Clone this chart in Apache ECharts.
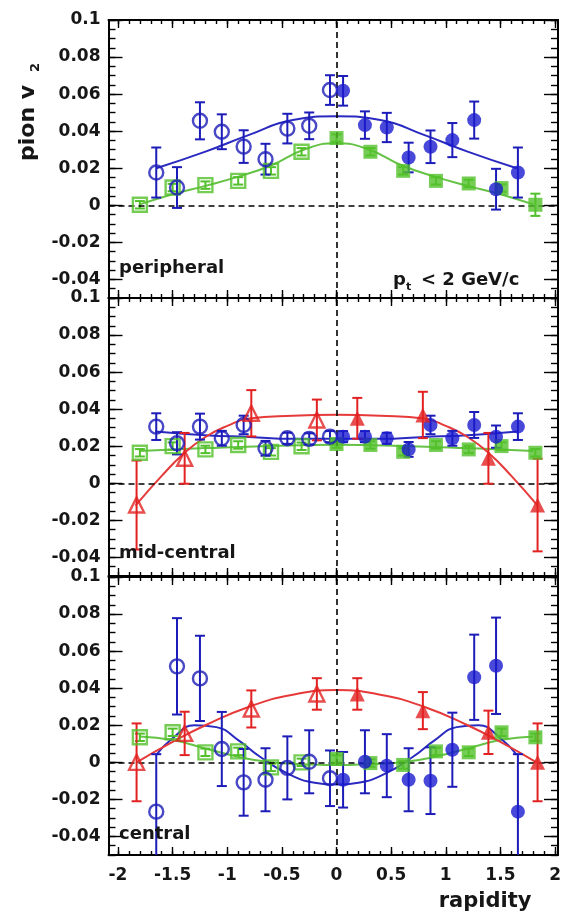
<!DOCTYPE html>
<html>
<head>
<meta charset="utf-8">
<script src="https://cdn.jsdelivr.net/npm/echarts@6/dist/echarts.min.js"></script>
<style>
  html, body { margin: 0; padding: 0; background: #fff; }
  #chart { width: 565px; height: 918px; }
</style>
</head>
<body>
<div id="chart"></div>
<script>
// ---- tick labels ----
const xTickValues = [-2, -1.5, -1, -0.5, 0, 0.5, 1, 1.5, 2];
const yTickValues = [-0.04, -0.02, 0, 0.02, 0.04, 0.06, 0.08, 0.1];
const panelNames = ['peripheral', 'mid-central', 'central'];

// ---- rapidity of each measurement (open = backward, filled = forward) ----
const blueOpenRap   = [-1.65, -1.46, -1.25, -1.05, -0.85, -0.65, -0.45, -0.25, -0.06];
const blueFilledRap = [0.06, 0.26, 0.46, 0.66, 0.86, 1.06, 1.26, 1.46, 1.66];
const greenOpenRap  = [-1.8, -1.5, -1.2, -0.9, -0.6, -0.32];
const greenFilledRap= [0.0, 0.31, 0.61, 0.91, 1.21, 1.51, 1.82];
const redOpenRap    = [-1.83, -1.39, -0.78, -0.18];
const redFilledRap  = [0.19, 0.79, 1.39, 1.84];

// ---- peripheral ----
const periBlueOpen    = [0.0177, 0.0096, 0.0456, 0.0397, 0.0317, 0.0249, 0.0414, 0.0429, 0.0622];
const periBlueOpenErr = [0.0135, 0.011, 0.010, 0.0094, 0.0088, 0.0083, 0.008, 0.0072, 0.008];
const periBlueFilled    = [0.0618, 0.0433, 0.042, 0.0258, 0.0316, 0.0352, 0.046, 0.0087, 0.0177];
const periBlueFilledErr = [0.008, 0.0074, 0.0079, 0.008, 0.0088, 0.0092, 0.010, 0.011, 0.0135];
const periGreenOpen    = [0.0003, 0.0096, 0.0109, 0.0132, 0.0186, 0.0289];
const periGreenOpenErr = [0.002, 0.002, 0.002, 0.002, 0.002, 0.002];
const periGreenFilled    = [0.0363, 0.0289, 0.0186, 0.0132, 0.0118, 0.0093, 0.0003];
const periGreenFilledErr = [0.002, 0.002, 0.002, 0.002, 0.002, 0.002, 0.006];
const periBlueFit  = [[-1.65, 0.020], [-1.2, 0.029], [-0.8, 0.038], [-0.4, 0.046], [0, 0.048], [0.4, 0.046], [0.8, 0.038], [1.2, 0.029], [1.65, 0.020]];
const periGreenFit = [[-1.8, 0.0005], [-1.5, 0.006], [-1.2, 0.0105], [-0.9, 0.0155], [-0.6, 0.0215], [-0.3, 0.030], [0, 0.0335], [0.3, 0.030], [0.6, 0.0215], [0.9, 0.0155], [1.2, 0.0105], [1.5, 0.006], [1.8, 0.0005]];

// ---- mid-central ----
const midBlueOpen    = [0.0306, 0.0216, 0.0306, 0.0243, 0.0315, 0.0189, 0.0243, 0.024, 0.0252];
const midBlueOpenErr = [0.0072, 0.006, 0.007, 0.004, 0.005, 0.004, 0.003, 0.003, 0.003];
const midBlueFilled    = [0.0252, 0.0252, 0.0243, 0.0183, 0.0315, 0.0243, 0.0315, 0.0252, 0.0306];
const midBlueFilledErr = [0.003, 0.003, 0.003, 0.004, 0.005, 0.004, 0.007, 0.006, 0.0072];
const midGreenOpen    = [0.0165, 0.0201, 0.0183, 0.0207, 0.017, 0.020];
const midGreenOpenErr = [0.002, 0.002, 0.002, 0.002, 0.002, 0.002];
const midGreenFilled    = [0.0212, 0.0207, 0.017, 0.0207, 0.0183, 0.0201, 0.0165];
const midGreenFilledErr = [0.002, 0.002, 0.002, 0.002, 0.002, 0.002, 0.002];
const midRedOpen    = [-0.0117, 0.0135, 0.0378, 0.0342];
const midRedOpenErr = [0.024, 0.0137, 0.0125, 0.011];
const midRedFilled    = [0.0351, 0.0369, 0.0135, -0.0117];
const midRedFilledErr = [0.011, 0.0125, 0.0137, 0.025];
const midBlueFit  = [[-1.66, 0.028], [-1.2, 0.026], [-0.8, 0.025], [-0.4, 0.024], [0, 0.024], [0.4, 0.024], [0.8, 0.025], [1.2, 0.026], [1.66, 0.028]];
const midGreenFit = [[-1.8, 0.0175], [-1.2, 0.019], [-0.6, 0.0202], [0, 0.0208], [0.6, 0.0202], [1.2, 0.019], [1.8, 0.0175]];
const midRedFit   = [[-1.84, -0.012], [-1.6, 0.004], [-1.4, 0.016], [-1.2, 0.025], [-1.0, 0.031], [-0.8, 0.035], [-0.4, 0.0365], [0, 0.037], [0.4, 0.0365], [0.8, 0.035], [1.0, 0.031], [1.2, 0.025], [1.4, 0.016], [1.6, 0.004], [1.84, -0.012]];

// ---- central ----
const centBlueOpen    = [-0.0266, 0.0518, 0.0453, 0.0072, -0.0108, -0.0094, -0.003, 0.0003, -0.0086];
const centBlueOpenErr = [0.031, 0.026, 0.023, 0.020, 0.018, 0.017, 0.017, 0.017, 0.015];
const centBlueFilled    = [-0.0094, 0.0003, -0.0018, -0.0094, -0.0099, 0.0068, 0.0459, 0.0521, -0.0266];
const centBlueFilledErr = [0.015, 0.017, 0.017, 0.017, 0.018, 0.020, 0.023, 0.026, 0.031];
const centGreenOpen    = [0.0135, 0.0162, 0.0054, 0.0059, -0.0027, 0.0];
const centGreenOpenErr = [0.002, 0.002, 0.002, 0.002, 0.002, 0.002];
const centGreenFilled    = [0.0018, -0.0004, -0.0014, 0.0059, 0.0054, 0.0162, 0.0135];
const centGreenFilledErr = [0.002, 0.002, 0.002, 0.002, 0.002, 0.002, 0.002];
const centRedOpen    = [0.0, 0.0156, 0.0288, 0.0369];
const centRedOpenErr = [0.021, 0.0117, 0.010, 0.0085];
const centRedFilled    = [0.0369, 0.0279, 0.0162, 0.0];
const centRedFilledErr = [0.0085, 0.010, 0.0117, 0.021];
const centBlueFit  = [[-1.65, 0.004], [-1.5, 0.013], [-1.3, 0.020], [-1.1, 0.019], [-0.9, 0.012], [-0.7, 0.003], [-0.45, -0.006], [-0.2, -0.011], [0, -0.012], [0.2, -0.011], [0.45, -0.006], [0.7, 0.003], [0.9, 0.012], [1.1, 0.019], [1.3, 0.020], [1.5, 0.013], [1.65, 0.004]];
const centGreenFit = [[-1.8, 0.014], [-1.5, 0.012], [-1.2, 0.0075], [-0.9, 0.003], [-0.6, 0.0], [-0.3, -0.001], [0, -0.0015], [0.3, -0.001], [0.6, 0.0], [0.9, 0.003], [1.2, 0.0075], [1.5, 0.012], [1.8, 0.014]];
const centRedFit   = [[-1.83, 0.0], [-1.5, 0.011], [-1.2, 0.020], [-0.8, 0.030], [-0.4, 0.0365], [0, 0.039], [0.4, 0.0365], [0.8, 0.030], [1.2, 0.020], [1.5, 0.011], [1.83, 0.0]];

// ---- styling ----
const BLUE = '#1c1cb8', BLUE_FILL = '#1a1ad0', BLUE_LINE = '#2a2ac0';
const GREEN = '#52c02a', GREEN_LINE = '#66c246';
const RED = '#e22222', RED_LINE = '#e63a3a';
const INK = '#161616';
const FONT = 'DejaVu Sans';

const X_MIN = -2.087, X_MAX = 2.027, Y_MIN = -0.05, Y_MAX = 0.1;
const gridTops = [20, 298, 577];
const GRID_H = 278;

const xMinorTicks = [];
for (let i = -20; i <= 20; i++) xMinorTicks.push(i / 10);
const yMinorTicks = [];
for (let i = -10; i <= 20; i++) yMinorTicks.push(i / 200);

const panels = [
  { blueO: periBlueOpen, blueOE: periBlueOpenErr, blueF: periBlueFilled, blueFE: periBlueFilledErr,
    greenO: periGreenOpen, greenOE: periGreenOpenErr, greenF: periGreenFilled, greenFE: periGreenFilledErr,
    redO: null, redOE: null, redF: null, redFE: null,
    blueFit: periBlueFit, greenFit: periGreenFit, redFit: null },
  { blueO: midBlueOpen, blueOE: midBlueOpenErr, blueF: midBlueFilled, blueFE: midBlueFilledErr,
    greenO: midGreenOpen, greenOE: midGreenOpenErr, greenF: midGreenFilled, greenFE: midGreenFilledErr,
    redO: midRedOpen, redOE: midRedOpenErr, redF: midRedFilled, redFE: midRedFilledErr,
    blueFit: midBlueFit, greenFit: midGreenFit, redFit: midRedFit },
  { blueO: centBlueOpen, blueOE: centBlueOpenErr, blueF: centBlueFilled, blueFE: centBlueFilledErr,
    greenO: centGreenOpen, greenOE: centGreenOpenErr, greenF: centGreenFilled, greenFE: centGreenFilledErr,
    redO: centRedOpen, redOE: centRedOpenErr, redF: centRedFilled, redFE: centRedFilledErr,
    blueFit: centBlueFit, greenFit: centGreenFit, redFit: centRedFit }
];

function fmtY(v) { return String(+v.toFixed(3)); }
function fmtX(v) { return String(+v.toFixed(2)); }

function makeX(gi, position, ticks, len, lineShown, labelShown) {
  return {
    type: 'value', gridIndex: gi, position: position, min: X_MIN, max: X_MAX,
    axisLine: { show: lineShown, onZero: false, lineStyle: { color: '#000', width: 2 } },
    axisTick: { show: true, inside: true, length: len, customValues: ticks, lineStyle: { color: '#000', width: 1.4 } },
    axisLabel: { show: labelShown, customValues: xTickValues, margin: 12, formatter: fmtX,
      fontFamily: FONT, fontWeight: 'bold', fontSize: 17, color: INK },
    splitLine: { show: false }
  };
}
function makeY(gi, position, ticks, len, lineShown, labelShown) {
  return {
    type: 'value', gridIndex: gi, position: position, min: Y_MIN, max: Y_MAX,
    axisLine: { show: lineShown, onZero: false, lineStyle: { color: '#000', width: 2 } },
    axisTick: { show: true, inside: true, length: len, customValues: ticks, lineStyle: { color: '#000', width: 1.4 } },
    axisLabel: { show: labelShown, customValues: yTickValues, margin: 8, formatter: fmtY,
      fontFamily: FONT, fontWeight: 'bold', fontSize: 17, color: INK },
    splitLine: { show: false }
  };
}

function errorBars(gi, rap, vals, errs, color, z) {
  return {
    type: 'custom', xAxisIndex: gi * 4, yAxisIndex: gi * 4, z: z, clip: true, silent: true,
    data: rap.map((r, i) => [r, vals[i] - errs[i], vals[i] + errs[i]]),
    renderItem: function (params, api) {
      const x = api.value(0);
      const lo = api.coord([x, api.value(1)]);
      const hi = api.coord([x, api.value(2)]);
      const hw = 5;
      const st = { stroke: color, lineWidth: 2 };
      return { type: 'group', children: [
        { type: 'line', shape: { x1: lo[0], y1: lo[1], x2: hi[0], y2: hi[1] }, style: st },
        { type: 'line', shape: { x1: lo[0] - hw, y1: lo[1], x2: lo[0] + hw, y2: lo[1] }, style: st },
        { type: 'line', shape: { x1: hi[0] - hw, y1: hi[1], x2: hi[0] + hw, y2: hi[1] }, style: st }
      ] };
    }
  };
}
function markers(gi, rap, vals, symbol, size, color, hollow, z) {
  return {
    type: 'scatter', xAxisIndex: gi * 4, yAxisIndex: gi * 4, z: z, silent: true,
    symbol: symbol, symbolSize: size,
    data: rap.map((r, i) => [r, vals[i]]),
    itemStyle: hollow
      ? { color: 'rgba(255,255,255,0)', borderColor: color, borderWidth: 2.4 }
      : { color: color, borderColor: color, borderWidth: 0 }
  };
}
function fitLine(gi, pts, color, z) {
  return {
    type: 'line', xAxisIndex: gi * 4, yAxisIndex: gi * 4, z: z, silent: true,
    data: pts, smooth: 0.5, showSymbol: false, symbol: 'none',
    lineStyle: { color: color, width: 2 }
  };
}

const grids = [], xAxes = [], yAxes = [], series = [];
panels.forEach((p, gi) => {
  grids.push({ left: 108.5, right: 7, top: gridTops[gi], height: GRID_H, containLabel: false, outerBoundsMode: 'none' });
  const last = gi === panels.length - 1;
  xAxes.push(
    makeX(gi, 'bottom', xTickValues, 8, true, last),
    makeX(gi, 'bottom', xMinorTicks, 4, false, false),
    makeX(gi, 'top', xTickValues, 8, true, false),
    makeX(gi, 'top', xMinorTicks, 4, false, false)
  );
  yAxes.push(
    makeY(gi, 'left', yTickValues, 14, true, true),
    makeY(gi, 'left', yMinorTicks, 7, false, false),
    makeY(gi, 'right', yTickValues, 14, true, false),
    makeY(gi, 'right', yMinorTicks, 7, false, false)
  );

  // dashed reference lines at v2 = 0 and rapidity = 0
  series.push({
    type: 'line', xAxisIndex: gi * 4, yAxisIndex: gi * 4, data: [], z: 1, silent: true,
    markLine: { silent: true, symbol: 'none', animation: false, label: { show: false },
      lineStyle: { color: '#000', type: [6, 4], width: 1.6 },
      data: [{ yAxis: 0 }, { xAxis: 0 }] }
  });

  series.push(fitLine(gi, p.greenFit, GREEN_LINE, 2));
  series.push(fitLine(gi, p.blueFit, BLUE_LINE, 2));
  if (p.redFit) series.push(fitLine(gi, p.redFit, RED_LINE, 3));

  series.push(errorBars(gi, greenOpenRap, p.greenO, p.greenOE, GREEN, 4));
  series.push(errorBars(gi, greenFilledRap, p.greenF, p.greenFE, GREEN, 4));
  series.push(errorBars(gi, blueOpenRap, p.blueO, p.blueOE, BLUE, 5));
  series.push(errorBars(gi, blueFilledRap, p.blueF, p.blueFE, BLUE, 5));
  if (p.redO) {
    series.push(errorBars(gi, redOpenRap, p.redO, p.redOE, RED, 6));
    series.push(errorBars(gi, redFilledRap, p.redF, p.redFE, RED, 6));
  }

  series.push(markers(gi, greenOpenRap, p.greenO, 'rect', 14, GREEN, true, 7));
  series.push(markers(gi, greenFilledRap, p.greenF, 'rect', 14, GREEN, false, 7));
  series.push(markers(gi, blueOpenRap, p.blueO, 'circle', 14, BLUE, true, 8));
  series.push(markers(gi, blueFilledRap, p.blueF, 'circle', 14, BLUE_FILL, false, 8));
  if (p.redO) {
    series.push(markers(gi, redOpenRap, p.redO, 'triangle', 15, RED, true, 9));
    series.push(markers(gi, redFilledRap, p.redF, 'triangle', 15, RED, false, 9));
  }
});

const labelFont = 'bold 18px "DejaVu Sans"';
const graphics = [
  { type: 'text', x: 28, y: 161, rotation: Math.PI / 2, z: 100,
    style: { text: 'pion v', font: 'bold 22px "DejaVu Sans"', fill: INK, textAlign: 'left', textVerticalAlign: 'middle' } },
  { type: 'text', x: 36, y: 72, rotation: Math.PI / 2, z: 100,
    style: { text: '2', font: 'bold 13px "DejaVu Sans"', fill: INK, textAlign: 'left', textVerticalAlign: 'middle' } },
  { type: 'text', x: 485, y: 902, z: 100,
    style: { text: 'rapidity', font: 'bold 21px "DejaVu Sans"', fill: INK, textAlign: 'center', textVerticalAlign: 'middle' } },
  { type: 'text', x: 393, y: 280, z: 100,
    style: { text: 'p', font: labelFont, fill: INK, textAlign: 'left', textVerticalAlign: 'middle' } },
  { type: 'text', x: 406, y: 287, z: 100,
    style: { text: 't', font: 'bold 11px "DejaVu Sans"', fill: INK, textAlign: 'left', textVerticalAlign: 'middle' } },
  { type: 'text', x: 421, y: 280, z: 100,
    style: { text: '< 2 GeV/c', font: labelFont, fill: INK, textAlign: 'left', textVerticalAlign: 'middle' } }
];
panelNames.forEach((name, gi) => {
  graphics.push({ type: 'text', x: 119, y: [268, 553, 834][gi], z: 100,
    style: { text: name, font: labelFont, fill: INK, textAlign: 'left', textVerticalAlign: 'middle' } });
});

const chart = echarts.init(document.getElementById('chart'), null, { renderer: 'canvas' });
chart.setOption({
  animation: false,
  backgroundColor: '#fff',
  grid: grids,
  xAxis: xAxes,
  yAxis: yAxes,
  series: series,
  graphic: graphics
});
</script>
</body>
</html>
